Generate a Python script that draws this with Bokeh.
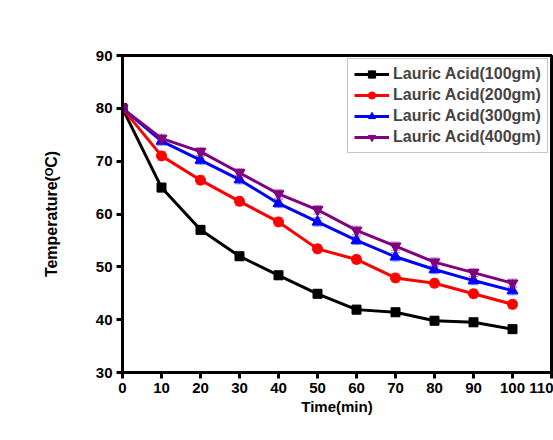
import math
from bokeh.plotting import figure
from bokeh.models import Whisker, ColumnDataSource, Legend, LegendItem, FixedTicker
from bokeh.embed import file_html
from bokeh.resources import INLINE

time = [0, 10, 20, 30, 40, 50, 60, 70, 80, 90, 100]
t100 = [80, 65, 57, 52, 48.4, 44.9, 41.9, 41.4, 39.8, 39.5, 38.2]
t200 = [80, 71, 66.4, 62.4, 58.5, 53.4, 51.4, 47.9, 46.9, 44.9, 42.9]
t300 = [80, 73.8, 70.2, 66.5, 62, 58.5, 55, 51.9, 49.5, 47.4, 45.5]
t400 = [80, 74.3, 71.8, 67.8, 63.8, 60.8, 56.9, 53.9, 50.9, 48.9, 46.9]
err = [0.8, 0.8, 0.8, 0.8, 0.8, 0.8, 0.8, 0.8, 0.8, 0.8, 0.8]
labels = ["Lauric Acid(100gm)", "Lauric Acid(200gm)", "Lauric Acid(300gm)", "Lauric Acid(400gm)"]
colors = ["#000000", "#ff0000", "#0000ff", "#800080"]
markers = ["square", "circle", "triangle", "inverted_triangle"]
msizes = [9, 10, 11, 11]

FONT = "Liberation Sans"

p = figure(width=553, height=440, x_range=(0, 110), y_range=(30, 90),
           output_backend="svg", toolbar_location=None,
           min_border_left=122, min_border_right=2, min_border_top=55, min_border_bottom=68)
p.grid.visible = False
p.background_fill_color = "white"
p.border_fill_color = "white"
p.outline_line_color = "black"
p.outline_line_width = 3

for ax in (p.xaxis[0], p.yaxis[0]):
    ax.axis_line_width = 3
    ax.major_tick_line_width = 3
    ax.major_tick_out = 6
    ax.major_tick_in = 0
    ax.minor_tick_line_color = None
    ax.major_label_text_font = FONT
    ax.major_label_text_font_style = "bold"
    ax.major_label_text_font_size = "15px"
    ax.major_label_text_color = "black"
    ax.axis_label_text_font = FONT
    ax.axis_label_text_font_style = "bold"
    ax.axis_label_text_font_size = "15px"
    ax.axis_label_text_color = "black"

p.xaxis[0].ticker = FixedTicker(ticks=list(range(0, 111, 10)))
p.yaxis[0].ticker = FixedTicker(ticks=list(range(30, 91, 10)))
p.xaxis[0].major_label_standoff = 4
p.yaxis[0].major_label_standoff = 4
p.xaxis[0].axis_label = "Time(min)"
p.xaxis[0].axis_label_standoff = 2
p.yaxis[0].axis_label = "Temperature(\u1d3cC)"
p.yaxis[0].axis_label_text_font_size = "16px"
p.yaxis[0].axis_label_standoff = 33

series = [t100, t200, t300, t400]
items = []
for ys, c, m, ms, lab in zip(series, colors, markers, msizes, labels):
    src = ColumnDataSource(dict(x=time, y=ys,
                                lo=[a - e for a, e in zip(ys, err)],
                                hi=[a + e for a, e in zip(ys, err)]))
    w = Whisker(source=src, base="x", lower="lo", upper="hi",
                line_color=c, line_alpha=0.45, line_width=1.2)
    w.upper_head.size = 9
    w.lower_head.size = 9
    w.upper_head.line_color = c
    w.lower_head.line_color = c
    w.upper_head.line_alpha = 0.45
    w.lower_head.line_alpha = 0.45
    p.add_layout(w)
    r1 = p.line("x", "y", source=src, line_color=c, line_width=3)
    r2 = p.scatter("x", "y", source=src, marker=m, size=ms, fill_color=c, line_color=c)
    items.append(LegendItem(label=lab, renderers=[r1, r2]))

legend = Legend(items=items, location=(225, 219))
legend.label_text_font = FONT
legend.label_text_font_style = "bold"
legend.label_text_font_size = "16px"
legend.glyph_height = 18
legend.glyph_width = 35
legend.label_height = 18
legend.spacing = 3
legend.padding = 6
legend.label_standoff = 4
legend.border_line_color = "#888888"
legend.border_line_width = 1
legend.background_fill_color = "white"
p.add_layout(legend, "center")

open("out.html", "w").write(file_html(p, INLINE))
